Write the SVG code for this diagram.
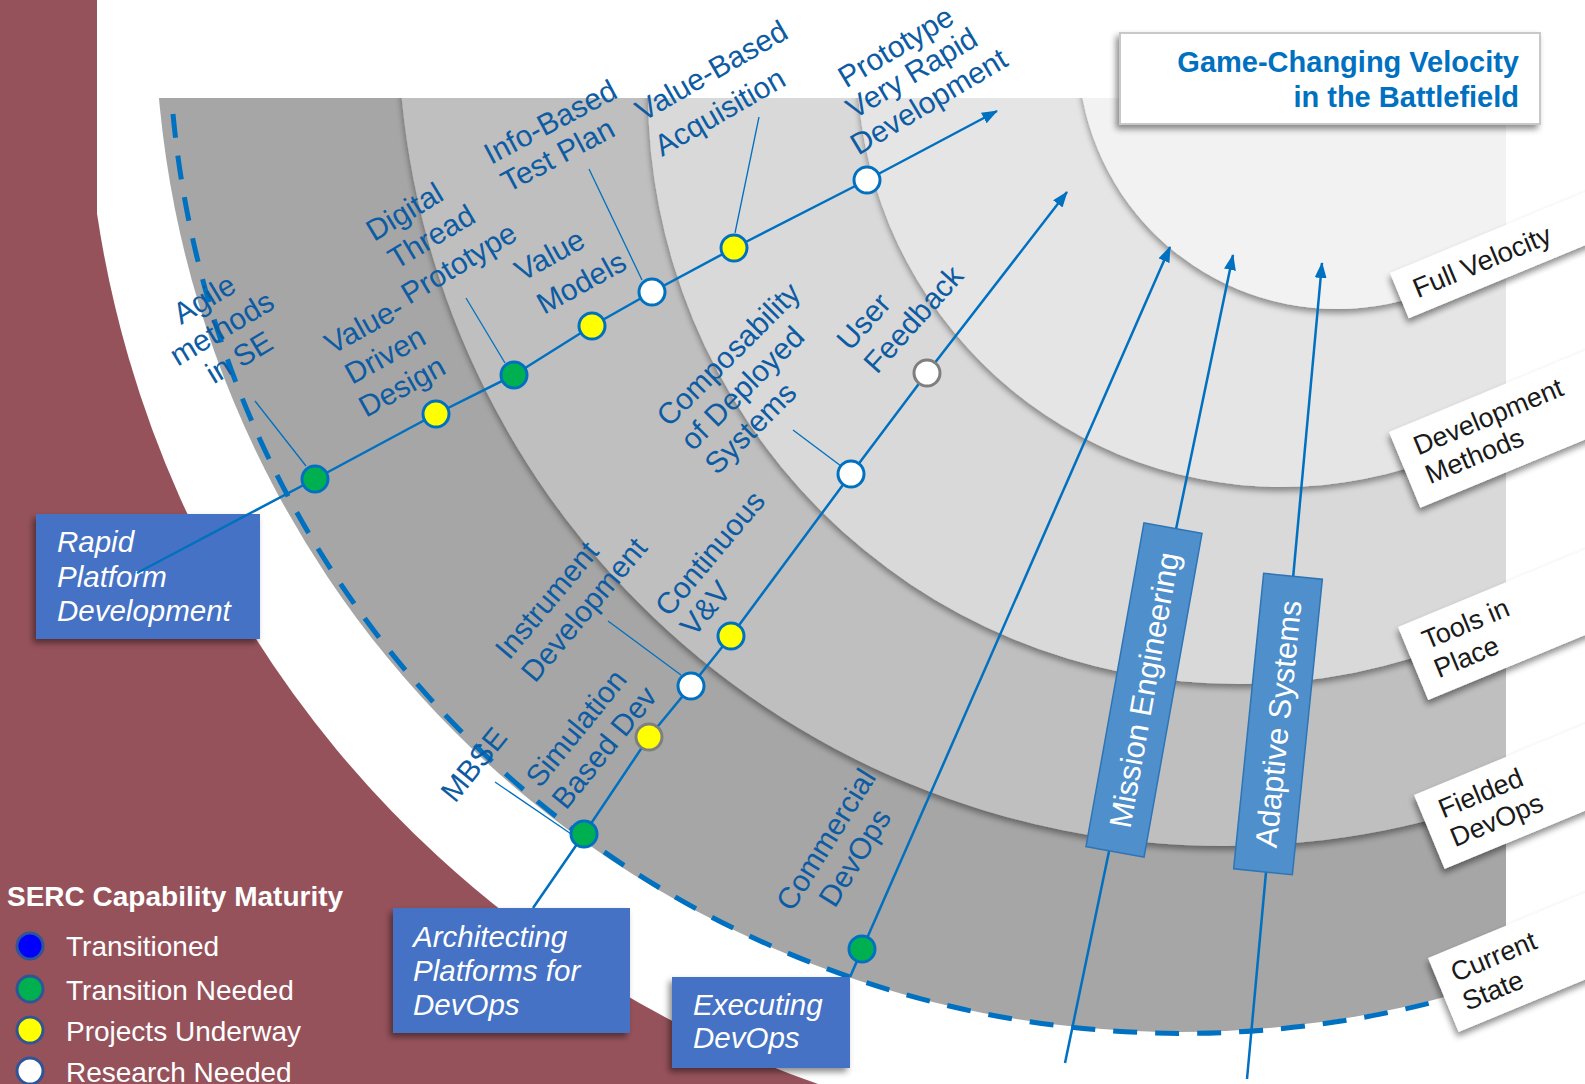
<svg xmlns="http://www.w3.org/2000/svg" width="1585" height="1084" viewBox="0 0 1585 1084">
<defs>
<style>
.lbl{font-family:"Liberation Sans",Arial,sans-serif;font-size:30px;fill:#0d5ca3}
.box{fill:#4472c4}
.boxt{font-family:"Liberation Sans",Arial,sans-serif;font-size:29.5px;font-style:italic;fill:#ffffff}
.rl{fill:#ffffff}
.rlt{font-family:"Liberation Sans",Arial,sans-serif;font-size:27px;fill:#1a1a1a}
.vbox{fill:#4f8fcc;stroke:#2e75b6;stroke-width:1.5}
.vt{font-family:"Liberation Sans",Arial,sans-serif;font-size:31px;fill:#ffffff}
.conn{fill:none;stroke:#0070c0;stroke-width:2.5}
.lead{fill:none;stroke:#0070c0;stroke-width:1.3}
.node{stroke:#0070c0;stroke-width:3}
.leg{font-family:"Liberation Sans",Arial,sans-serif;font-size:28px;fill:#ffffff}
</style>
<clipPath id="rectClip"><rect x="159" y="98" width="1347" height="1000"/></clipPath>
<filter id="arcSh" x="-10%" y="-10%" width="120%" height="120%"><feDropShadow dx="0" dy="4" stdDeviation="3" flood-color="#000" flood-opacity="0.4"/></filter>
<filter id="boxSh" x="-20%" y="-20%" width="140%" height="140%"><feDropShadow dx="-3" dy="4" stdDeviation="3" flood-color="#000" flood-opacity="0.45"/></filter>
<marker id="arr" viewBox="0 0 16 12" refX="15" refY="6" markerWidth="16" markerHeight="12" markerUnits="userSpaceOnUse" orient="auto"><path d="M0,0 L16,6 L0,12 z" fill="#0070c0"/></marker>
</defs>

<g id="background">
<rect x="0" y="0" width="1585" height="1084" fill="#96525b"/>
<path d="M97,0 H1585 V1084 H818 A1093,1093 0 0 1 97,213.5 Z" fill="#ffffff"/>
</g>

<g id="bands" clip-path="url(#rectClip)">
<circle cx="1179" cy="8" r="1024" fill="#a6a6a6"/>
<circle cx="1224" cy="20" r="826" fill="#bfbfbf" filter="url(#arcSh)"/>
<circle cx="1239" cy="93" r="591" fill="#d9d9d9" filter="url(#arcSh)"/>
<circle cx="1282" cy="62" r="425" fill="#e5e5e5" filter="url(#arcSh)"/>
<circle cx="1337" cy="50" r="259" fill="#f2f2f2" filter="url(#arcSh)"/>
</g>

<path id="current-state-boundary" d="M173,114 A1015,1015 0 0 0 1432,1002.5" fill="none" stroke="#0070c0" stroke-width="5" stroke-dasharray="24 18"/>

<g id="rapid-platform-box">
<rect class="box" x="36" y="514" width="224" height="125" filter="url(#boxSh)"/>
<text class="boxt"><tspan x="57" y="552">Rapid</tspan><tspan x="57" y="587">Platform</tspan><tspan x="57" y="621">Development</tspan></text>
</g>
<g id="architecting-box">
<rect class="box" x="393" y="908" width="237" height="125" filter="url(#boxSh)"/>
<text class="boxt"><tspan x="413" y="947">Architecting</tspan><tspan x="413" y="981">Platforms for</tspan><tspan x="413" y="1015">DevOps</tspan></text>
</g>
<g id="executing-box">
<rect class="box" x="672" y="977" width="178" height="91" filter="url(#boxSh)"/>
<text class="boxt"><tspan x="693" y="1015">Executing</tspan><tspan x="693" y="1048">DevOps</tspan></text>
</g>

<g id="connectors">
<polyline class="conn" points="137,573 315,479 436,414 514,375 592,326 652,292 734,248 867,180 997,111" marker-end="url(#arr)"/>
<polyline class="conn" points="533,908 584,834 649,737 691,686 731,636 851,474 927,373 1067,192" marker-end="url(#arr)"/>
<line class="conn" x1="850" y1="977" x2="1170" y2="247" marker-end="url(#arr)"/>
<line class="conn" x1="1065" y1="1063" x2="1233" y2="255" marker-end="url(#arr)"/>
<line class="conn" x1="1247" y1="1079" x2="1322" y2="263" marker-end="url(#arr)"/>
<line class="lead" x1="255" y1="401" x2="306" y2="466"/>
<line class="lead" x1="466" y1="298" x2="505" y2="363"/>
<line class="lead" x1="589" y1="169" x2="642" y2="280"/>
<line class="lead" x1="759" y1="117" x2="735" y2="233"/>
<line class="lead" x1="793" y1="430" x2="841" y2="466"/>
<line class="lead" x1="608" y1="621" x2="681" y2="675"/>
<line class="lead" x1="495" y1="782" x2="580" y2="840"/>
</g>

<g id="nodes">
<g id="n-agile"><circle class="node" cx="315" cy="479" r="13" fill="#00b050"/></g>
<g id="n-vdd"><circle class="node" cx="436" cy="414" r="13" fill="#ffff00"/></g>
<g id="n-dtp"><circle class="node" cx="514" cy="375" r="13" fill="#00b050"/></g>
<g id="n-vm"><circle class="node" cx="592" cy="326" r="13" fill="#ffff00"/></g>
<g id="n-ibtp"><circle class="node" cx="652" cy="292" r="13" fill="#ffffff"/></g>
<g id="n-vba"><circle class="node" cx="734" cy="248" r="13" fill="#ffff00"/></g>
<g id="n-pvrd"><circle class="node" cx="867" cy="180" r="13" fill="#ffffff"/></g>
<g id="n-mbse"><circle class="node" cx="584" cy="834" r="13" fill="#00b050"/></g>
<g id="n-sbd"><circle class="node" cx="649" cy="737" r="13" fill="#ffff00" style="stroke:#7f7f7f"/></g>
<g id="n-id"><circle class="node" cx="691" cy="686" r="13" fill="#ffffff"/></g>
<g id="n-cvv"><circle class="node" cx="731" cy="636" r="13" fill="#ffff00"/></g>
<g id="n-cds"><circle class="node" cx="851" cy="474" r="13" fill="#ffffff"/></g>
<g id="n-uf"><circle class="node" cx="927" cy="373" r="13" fill="#ffffff" style="stroke:#7f7f7f"/></g>
<g id="n-cd"><circle class="node" cx="862" cy="949" r="13" fill="#00b050"/></g>
</g>

<g id="mission-engineering" transform="translate(1144,690) rotate(10.15)">
<rect class="vbox" x="-29.5" y="-164.5" width="59" height="329"/>
<text class="vt" transform="rotate(-90)" text-anchor="middle" x="0" y="11">Mission Engineering</text>
</g>
<g id="adaptive-systems" transform="translate(1278,724) rotate(5.8)">
<rect class="vbox" x="-29.5" y="-148.5" width="59" height="297"/>
<text class="vt" transform="rotate(-90)" text-anchor="middle" x="0" y="11">Adaptive Systems</text>
</g>

<g id="labels">
<text class="lbl" text-anchor="middle" transform="translate(227,337) rotate(-31)"><tspan x="0" y="-34">Agile</tspan><tspan x="0" y="0">methods</tspan><tspan x="0" y="34">in SE</tspan></text>
<g id="lbl-dtp">
<text class="lbl" transform="translate(374,242) rotate(-31)">Digital</text>
<text class="lbl" transform="translate(396,270) rotate(-31)">Thread</text>
<text class="lbl" transform="translate(409,305) rotate(-31)">Prototype</text>
</g>
<g id="lbl-vdd">
<text class="lbl" transform="translate(332,355) rotate(-29)">Value-</text>
<text class="lbl" transform="translate(352,385) rotate(-29)">Driven</text>
<text class="lbl" transform="translate(366,418) rotate(-29)">Design</text>
</g>
<g id="lbl-ibtp">
<text class="lbl" transform="translate(491,165) rotate(-28)">Info-Based</text>
<text class="lbl" transform="translate(508,193) rotate(-28)">Test Plan</text>
</g>
<g id="lbl-vm">
<text class="lbl" transform="translate(522,282) rotate(-29)">Value</text>
<text class="lbl" transform="translate(544,315) rotate(-29)">Models</text>
</g>
<g id="lbl-vba">
<text class="lbl" transform="translate(643,122) rotate(-30)">Value-Based</text>
<text class="lbl" transform="translate(662,157) rotate(-30)">Acquisition</text>
</g>
<text class="lbl" text-anchor="middle" transform="translate(917,82) rotate(-31)"><tspan x="0" y="-31">Prototype</tspan><tspan x="0" y="0">Very Rapid</tspan><tspan x="0" y="33">Development</tspan></text>
<g id="lbl-cds">
<text class="lbl" transform="translate(669,428) rotate(-45)">Composability</text>
<text class="lbl" transform="translate(693,452) rotate(-45)">of Deployed</text>
<text class="lbl" transform="translate(717,476) rotate(-45)">Systems</text>
</g>
<g id="lbl-uf">
<text class="lbl" transform="translate(850,352) rotate(-48)">User</text>
<text class="lbl" transform="translate(877,375) rotate(-48)">Feedback</text>
</g>
<g id="lbl-id">
<text class="lbl" transform="translate(509,661) rotate(-50)">Instrument</text>
<text class="lbl" transform="translate(535,684) rotate(-50)">Development</text>
</g>
<g id="lbl-cvv">
<text class="lbl" transform="translate(669,618) rotate(-50)">Continuous</text>
<text class="lbl" transform="translate(694,638) rotate(-50)">V&amp;V</text>
</g>
<g id="lbl-sbd">
<text class="lbl" transform="translate(540,789) rotate(-51)">Simulation</text>
<text class="lbl" transform="translate(566,811) rotate(-51)">Based Dev</text>
</g>
<text class="lbl" transform="translate(455,804) rotate(-51)">MBSE</text>
<text class="lbl" text-anchor="middle" transform="translate(849,854) rotate(-58)"><tspan x="0" y="-17">Commercial</tspan><tspan x="0" y="17">DevOps</tspan></text>
</g>

<g id="level-labels">
<g id="full-velocity" transform="translate(1390,273) rotate(-22.5)">
<rect class="rl" x="0" y="0" width="260" height="49" filter="url(#boxSh)"/>
<text class="rlt" x="16" y="34" style="font-size:27.5px">Full Velocity</text>
</g>
<g id="development-methods" transform="translate(1389,432) rotate(-22.5)">
<rect class="rl" x="0" y="0" width="260" height="82" filter="url(#boxSh)"/>
<text class="rlt"><tspan x="18" y="33">Development</tspan><tspan x="18" y="64">Methods</tspan></text>
</g>
<g id="tools-in-place" transform="translate(1398,627) rotate(-22.5)">
<rect class="rl" x="0" y="0" width="260" height="79" filter="url(#boxSh)"/>
<text class="rlt"><tspan x="18" y="32">Tools in</tspan><tspan x="18" y="63">Place</tspan></text>
</g>
<g id="fielded-devops" transform="translate(1414,795) rotate(-22.5)">
<rect class="rl" x="0" y="0" width="260" height="80" filter="url(#boxSh)"/>
<text class="rlt"><tspan x="18" y="33">Fielded</tspan><tspan x="18" y="64">DevOps</tspan></text>
</g>
<g id="current-state" transform="translate(1428,958) rotate(-22.5)">
<rect class="rl" x="0" y="0" width="260" height="80" filter="url(#boxSh)"/>
<text class="rlt"><tspan x="16" y="33">Current</tspan><tspan x="16" y="64">State</tspan></text>
</g>
</g>

<g id="title">
<rect x="1120" y="33" width="420" height="91" fill="#ffffff" stroke="#c8c8c8" stroke-width="2" filter="url(#boxSh)"/>
<text font-family="'Liberation Sans',Arial,sans-serif" font-size="29" font-weight="bold" fill="#0070c0" text-anchor="end"><tspan x="1519" y="72">Game-Changing Velocity</tspan><tspan x="1519" y="107">in the Battlefield</tspan></text>
</g>

<g id="legend">
<text x="7" y="906" font-family="'Liberation Sans',Arial,sans-serif" font-size="28" font-weight="bold" fill="#ffffff">SERC Capability Maturity</text>
<circle cx="30" cy="946" r="13" fill="#0000ff" stroke="#2f5597" stroke-width="3"/>
<text class="leg" x="66" y="956">Transitioned</text>
<circle cx="30" cy="989" r="13" fill="#00b050" stroke="#2f5597" stroke-width="3"/>
<text class="leg" x="66" y="1000">Transition Needed</text>
<circle cx="30" cy="1030" r="13" fill="#ffff00" stroke="#2f5597" stroke-width="3"/>
<text class="leg" x="66" y="1041">Projects Underway</text>
<circle cx="30" cy="1071" r="13" fill="#ffffff" stroke="#2f5597" stroke-width="3"/>
<text class="leg" x="66" y="1082">Research Needed</text>
</g>
</svg>
